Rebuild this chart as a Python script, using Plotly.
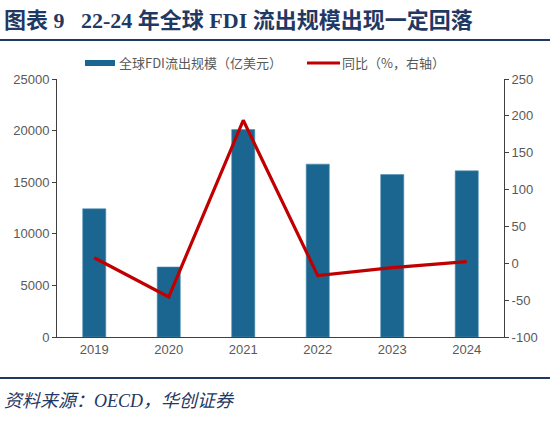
import plotly.graph_objects as go

years = ["2019", "2020", "2021", "2022", "2023", "2024"]
outflow = [12420, 6780, 20100, 16750, 15740, 16100]
yoy = [7.5, -45.6, 194.0, -16.7, -6.0, 2.3]
left_ticks = [0, 5000, 10000, 15000, 20000, 25000]
right_ticks = [-100, -50, 0, 50, 100, 150, 200, 250]

bar_name = "全球FDI流出规模（亿美元）"
line_name = "同比（%，右轴）"
title_text = "<b>图表 9   22-24 年全球 FDI 流出规模出现一定回落</b>"
source_text = "<i>资料来源：OECD，华创证券</i>"

W, H = 550, 421
L, R, T, B = 57, 46, 79, 84
pw, ph = W - L - R, H - T - B

def px(x):
    return (x - L) / pw

def py(y):
    return (H - B - y) / ph

BAR_C = "#1A6690"
LINE_C = "#C00000"
NAVY = "#1F3864"

fig = go.Figure()
fig.add_trace(go.Bar(x=years, y=outflow, name=bar_name,
                     marker=dict(color=BAR_C, line=dict(color="#4F8DB0", width=0.6)),
                     width=0.31, yaxis="y", showlegend=False))
fig.add_trace(go.Scatter(x=years, y=yoy, name=line_name, mode="lines",
                         line=dict(color=LINE_C, width=3.2), yaxis="y2", showlegend=False))

tf = dict(family="Arial, Liberation Sans, sans-serif", size=13, color="#595959")
axis_common = dict(showgrid=False, zeroline=False, showline=True, linecolor="#404040",
                   linewidth=1, ticks="outside", ticklen=4, tickcolor="#404040",
                   tickfont=tf, automargin=False)

fig.update_layout(
    width=W, height=H,
    margin=dict(l=L, r=R, t=T, b=B),
    paper_bgcolor="white", plot_bgcolor="white",
    xaxis=dict(**axis_common, type="category", range=[-0.5, 5.5]),
    yaxis=dict(**axis_common, range=[0, 25000], tickvals=left_ticks,
               ticktext=[str(v) for v in left_ticks]),
    yaxis2=dict(**axis_common, overlaying="y", side="right", range=[-100, 250],
                tickvals=right_ticks, ticktext=[str(v) for v in right_ticks]),
)
fig.update_xaxes(ticks="", ticklen=0)

fig.add_annotation(text=title_text, xref="paper", yref="paper", x=px(2), y=py(20),
                   xanchor="left", yanchor="middle", showarrow=False,
                   font=dict(family="Liberation Serif, Noto Sans CJK SC, serif", size=22, color=NAVY))
fig.add_annotation(text=source_text, xref="paper", yref="paper", x=px(2), y=py(401),
                   xanchor="left", yanchor="middle", showarrow=False,
                   font=dict(family="Liberation Serif, Noto Sans CJK SC, serif", size=18, color=NAVY))

fig.add_shape(type="line", xref="paper", yref="paper", x0=px(0), x1=px(W), y0=py(40), y1=py(40),
              line=dict(color=NAVY, width=2))
fig.add_shape(type="line", xref="paper", yref="paper", x0=px(0), x1=px(W), y0=py(378), y1=py(378),
              line=dict(color=NAVY, width=2))

# custom legend
lf = dict(family="Noto Sans CJK SC, sans-serif", size=13, color="#595959")
fig.add_shape(type="rect", xref="paper", yref="paper", x0=px(85), x1=px(115), y0=py(66), y1=py(60),
              fillcolor=BAR_C, line=dict(width=0))
fig.add_annotation(text=bar_name, xref="paper", yref="paper", x=px(117), y=py(63),
                   xanchor="left", yanchor="middle", showarrow=False, font=lf)
fig.add_shape(type="line", xref="paper", yref="paper", x0=px(307), x1=px(340), y0=py(63), y1=py(63),
              line=dict(color=LINE_C, width=3))
fig.add_annotation(text=line_name, xref="paper", yref="paper", x=px(340), y=py(63),
                   xanchor="left", yanchor="middle", showarrow=False, font=lf)

fig.write_html("out.html", config={"displayModeBar": False},
               post_script="document.body.style.margin='0';document.body.style.padding='0';")
